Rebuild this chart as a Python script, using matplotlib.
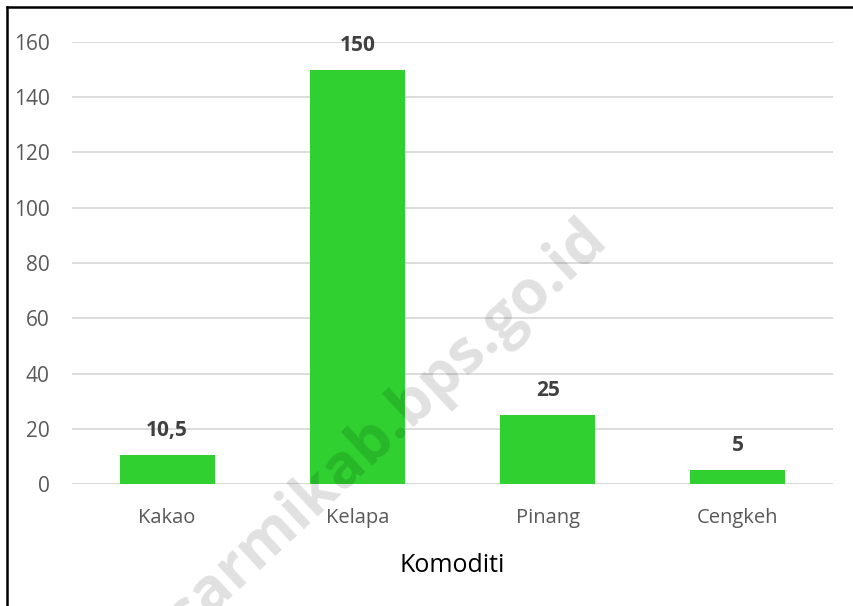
import matplotlib.pyplot as plt
from matplotlib.lines import Line2D

# data
komoditi = ['Kakao', 'Kelapa', 'Pinang', 'Cengkeh']
nilai = [10.5, 150, 25, 5]
label_nilai = ['10,5', '150', '25', '5']
y_ticks = [0, 20, 40, 60, 80, 100, 120, 140, 160]

plt.rcParams['font.family'] = ['Open Sans', 'DejaVu Sans']

fig = plt.figure(figsize=(8.54, 6.06), dpi=100)
ax = fig.add_axes([0.0843, 0.2013, 0.8911, 0.7294])

x = range(len(komoditi))
bars = ax.bar(x, nilai, width=0.5, color='#2fd030', zorder=3)

ax.set_xlim(-0.5, len(komoditi) - 0.5)
ax.set_ylim(0, 160)
ax.set_yticks(y_ticks)
ax.set_xticks(list(x))
ax.set_xticklabels(komoditi)
ax.grid(axis='y', color='#d9d9d9', linewidth=1.3, zorder=0)
ax.set_axisbelow(True)
for s in ax.spines.values():
    s.set_visible(False)
ax.axhline(0, color='#d9d9d9', linewidth=1.3, zorder=1)
ax.tick_params(axis='both', length=0, labelsize=14.5, colors='#595959')
ax.tick_params(axis='y', labelsize=15, pad=16)
ax.tick_params(axis='x', pad=17)
ax.set_xlabel('Komoditi', fontsize=18, color='black', labelpad=18)

for b, lab in zip(bars, label_nilai):
    ax.annotate(lab, (b.get_x() + b.get_width() / 2, b.get_height()),
                xytext=(0, 10), textcoords='offset points',
                ha='center', va='bottom', fontsize=15,
                fontweight='bold', color='#404040')

# watermark
fig.text(0.454, 0.294, 'sarmikab.bps.go.id', fontsize=44, fontweight='bold',
         color='black', alpha=0.12, rotation=43, ha='center', va='center',
         zorder=10)

# frame (left and top edges of the original chart border)
fig.add_artist(Line2D([0.0082, 0.0082], [0, 0.9885], color='black', lw=1.8))
fig.add_artist(Line2D([0.0082, 1], [0.9885, 0.9885], color='black', lw=1.8))

fig.savefig('out.png', dpi=100)
